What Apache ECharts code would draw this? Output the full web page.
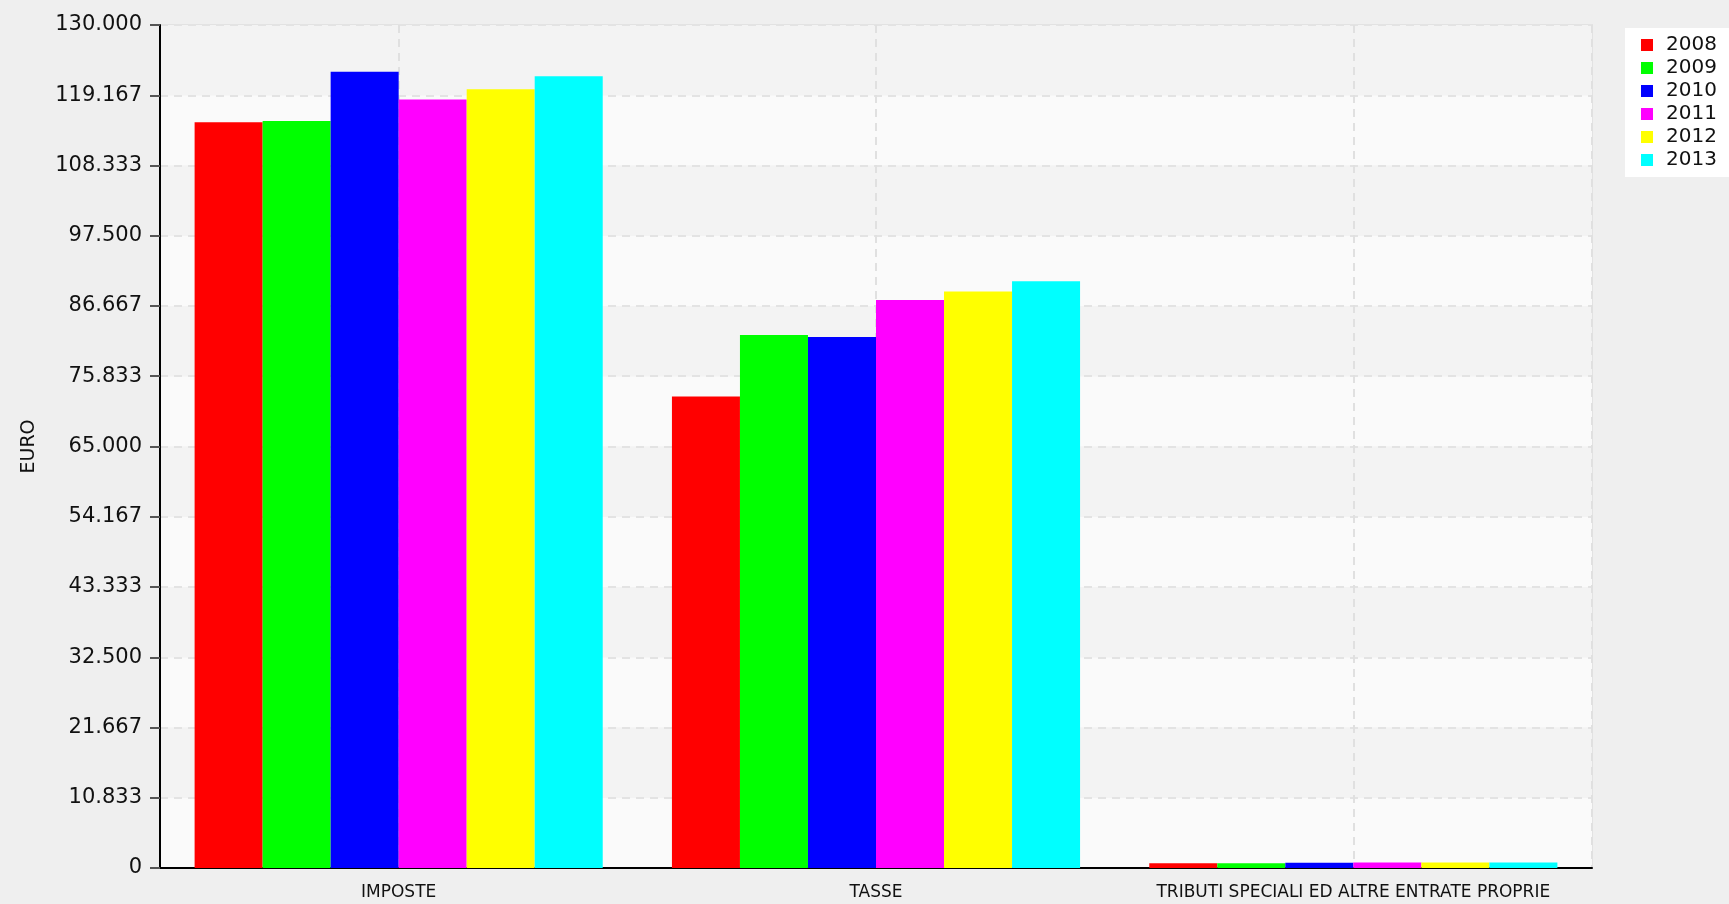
<!DOCTYPE html>
<html>
<head>
<meta charset="utf-8">
<script src="https://cdn.jsdelivr.net/npm/echarts@6/dist/echarts.min.js"></script>
<style>
  html, body { margin: 0; padding: 0; background: #efefef; }
  #chart { width: 1729px; height: 904px; }
</style>
</head>
<body>
<div id="chart"></div>
<script>
// categories and values (EURO)
const categories = ['IMPOSTE', 'TASSE', 'TRIBUTI SPECIALI ED ALTRE ENTRATE PROPRIE'];
const years = ['2008', '2009', '2010', '2011', '2012', '2013'];
const v2008 = [115000, 72700, 750];
const v2009 = [115200, 82200, 750];
const v2010 = [122800, 81900, 800];
const v2011 = [118500, 87600, 850];
const v2012 = [120100, 88900, 850];
const v2013 = [122100, 90500, 850];
const yearValues = [v2008, v2009, v2010, v2011, v2012, v2013];
const colors = ['#ff0000', '#00ff00', '#0000ff', '#ff00ff', '#ffff00', '#00ffff'];

const yMax = 130000;
const yStep = yMax / 12;

function itNumber(v) {
  // thousands with a dot, like 119.167
  const s = String(Math.round(v));
  return s.replace(/\B(?=(\d{3})+(?!\d))/g, '.');
}

const font = 'DejaVu Sans';
const chart = echarts.init(document.getElementById('chart'));

const option = {
  backgroundColor: '#efefef',
  animation: false,
  color: colors,
  textStyle: { fontFamily: font },
  grid: {
    left: 160, top: 25, right: 137, bottom: 36,
    show: true, borderColor: '#e2e2e2', borderWidth: 2, backgroundColor: 'transparent'
  },
  legend: {
    orient: 'vertical',
    left: 1625, top: 28,
    padding: [7, 30, 7, 16],
    backgroundColor: '#ffffff',
    itemWidth: 12, itemHeight: 12, itemGap: 3,
    icon: 'rect',
    data: years,
    textStyle: { fontFamily: font, fontSize: 20, color: '#111', lineHeight: 20, padding: [0, 0, 0, 8] }
  },
  xAxis: [
    {
      type: 'category',
      data: categories,
      axisLine: { lineStyle: { color: '#000', width: 2 } },
      axisTick: { alignWithLabel: true, length: 6, lineStyle: { color: '#000', width: 2 } },
      axisLabel: { interval: 0, hideOverlap: false, fontFamily: font, fontSize: 17, color: '#111', margin: 16 },
      splitLine: { show: false }
    },
    {
      // only used for the dashed vertical lines through the category centres
      type: 'category',
      data: ['a', 'b', 'c', 'd', 'e', 'f'],
      position: 'bottom',
      axisLine: { show: false },
      axisTick: { show: false },
      axisLabel: { show: false },
      splitLine: {
        show: true,
        interval: function (i) { return i % 2 === 1; },
        lineStyle: { color: '#e0e0e0', width: 2, type: [8, 6] }
      }
    }
  ],
  yAxis: {
    type: 'value',
    min: 0, max: yMax, interval: yStep,
    name: 'EURO',
    nameLocation: 'middle',
    nameGap: 121,
    nameTextStyle: { fontFamily: font, fontSize: 19, color: '#111' },
    axisLine: { show: true, lineStyle: { color: '#000', width: 2 } },
    axisTick: { show: true, length: 10, lineStyle: { color: '#555', width: 2 } },
    axisLabel: {
      fontFamily: font, fontSize: 21, color: '#111', margin: 18,
      formatter: function (v) { return itNumber(v); }
    },
    splitLine: { lineStyle: { color: '#e3e3e3', width: 2, type: [8, 6] } },
    splitArea: { show: true, areaStyle: { color: ['#fafafa', '#f3f3f3'] } }
  },
  series: years.map(function (y, i) {
    return {
      name: y,
      type: 'bar',
      xAxisIndex: 0,
      data: yearValues[i],
      barGap: '0%',
      barCategoryGap: '14.5%',
      itemStyle: { color: colors[i] }
    };
  })
};

chart.setOption(option);
</script>
</body>
</html>
